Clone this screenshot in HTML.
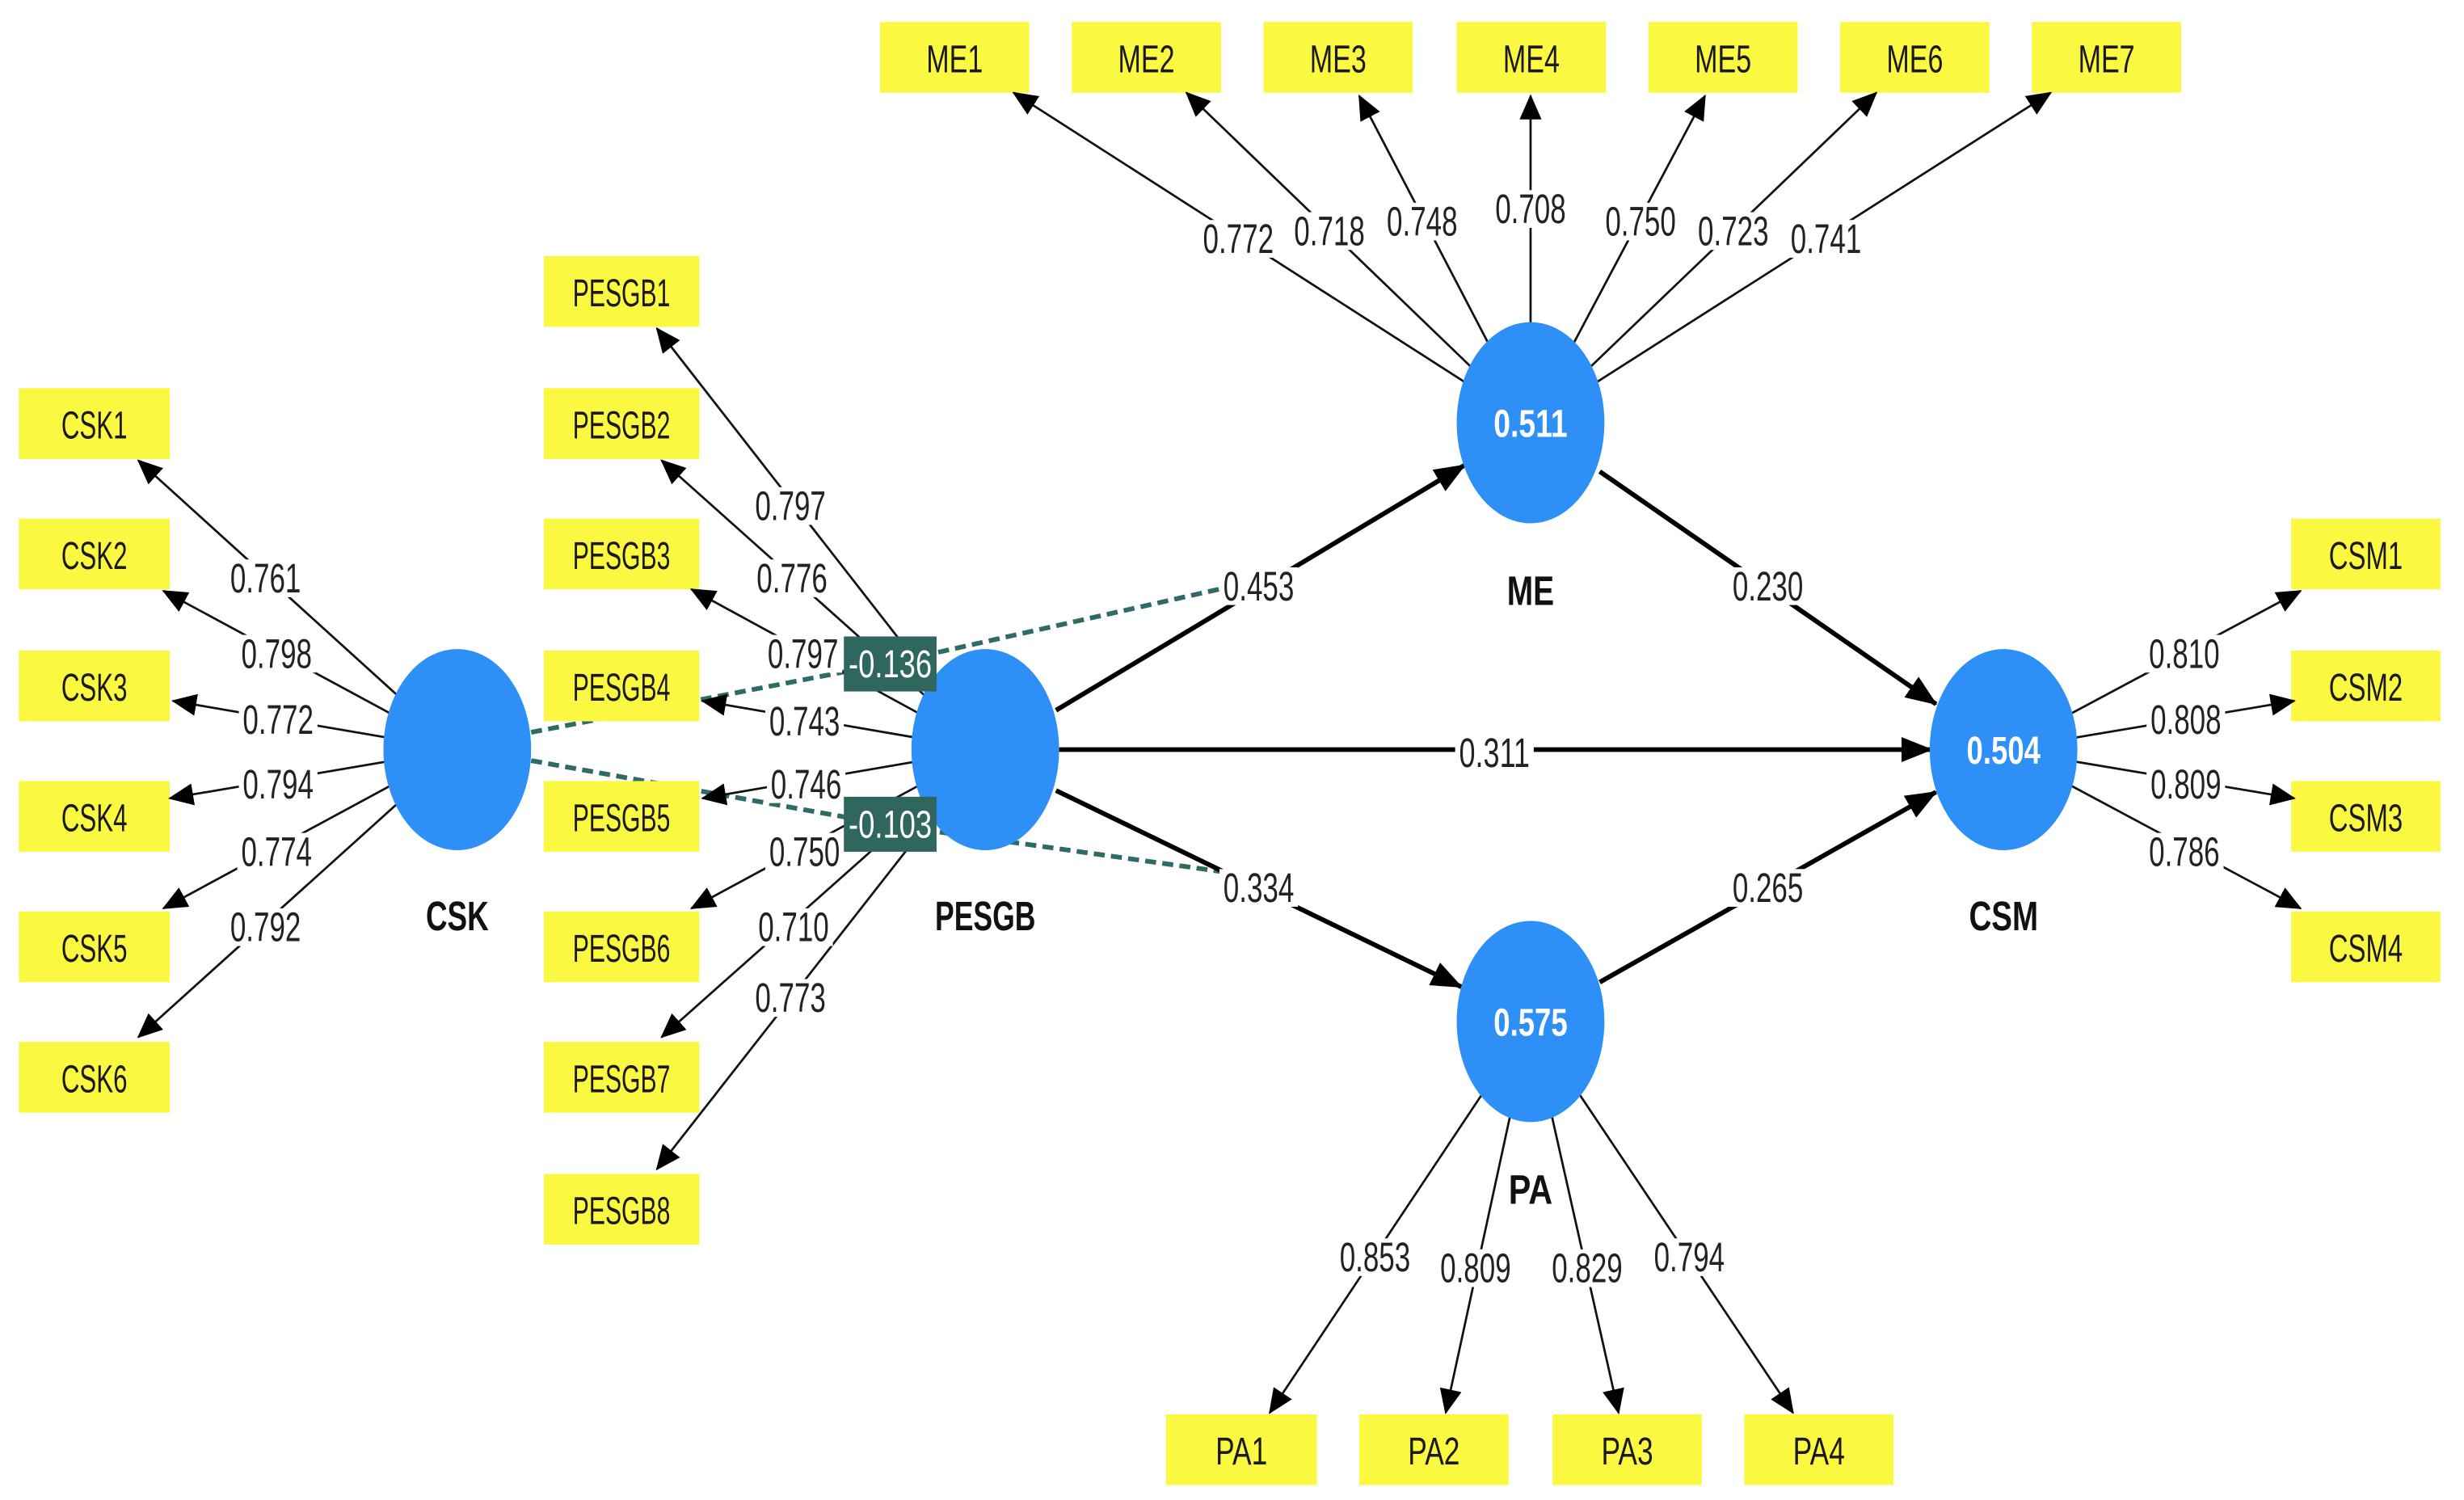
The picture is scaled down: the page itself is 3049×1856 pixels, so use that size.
<!DOCTYPE html>
<html><head><meta charset="utf-8"><style>
html,body{margin:0;padding:0;background:#fff;}
svg{display:block;}
text{font-family:"Liberation Sans",sans-serif;}
</style></head><body>
<svg width="3049" height="1856" viewBox="0 0 1568 954.5" preserveAspectRatio="none" xmlns="http://www.w3.org/2000/svg">
<defs>
<marker id="a" markerUnits="userSpaceOnUse" markerWidth="16" markerHeight="14" refX="15" refY="7" orient="auto"><path d="M0,0 L16,7 L0,14 Z" fill="#000"/></marker>
<marker id="b" markerUnits="userSpaceOnUse" markerWidth="20" markerHeight="16" refX="19" refY="8" orient="auto"><path d="M0,0 L20,8 L0,16 Z" fill="#000"/></marker>
</defs>
<rect width="1568" height="954.5" fill="#fff"/>

<g stroke="#2f6b66" stroke-width="3" stroke-dasharray="7,4" fill="none">
<path d="M338,466 L566,422 L780,374"/>
<path d="M338,484 L566,525 L780,555"/>
</g>

<g fill="#fbf841">
<rect x="560" y="14" width="95" height="45"/><rect x="682" y="14" width="95" height="45"/><rect x="804" y="14" width="95" height="45"/><rect x="927" y="14" width="95" height="45"/><rect x="1049" y="14" width="95" height="45"/><rect x="1171" y="14" width="95" height="45"/><rect x="1293" y="14" width="95" height="45"/>
<rect x="346" y="163" width="99" height="45"/><rect x="346" y="247" width="99" height="45"/><rect x="346" y="330" width="99" height="45"/><rect x="346" y="414" width="99" height="45"/><rect x="346" y="497" width="99" height="45"/><rect x="346" y="580" width="99" height="45"/><rect x="346" y="663" width="99" height="45"/><rect x="346" y="747" width="99" height="45"/>
<rect x="12" y="247" width="96" height="45"/><rect x="12" y="330" width="96" height="45"/><rect x="12" y="414" width="96" height="45"/><rect x="12" y="497" width="96" height="45"/><rect x="12" y="580" width="96" height="45"/><rect x="12" y="663" width="96" height="45"/>
<rect x="1458" y="330" width="95" height="45"/><rect x="1458" y="414" width="95" height="45"/><rect x="1458" y="497" width="95" height="45"/><rect x="1458" y="580" width="95" height="45"/>
<rect x="742" y="900" width="96" height="45"/><rect x="865" y="900" width="95" height="45"/><rect x="988" y="900" width="95" height="45"/><rect x="1110" y="900" width="95" height="45"/>
</g>

<g stroke="#111" stroke-width="1.4" fill="none" marker-end="url(#a)">
<line x1="291" y1="477" x2="88" y2="293"/><line x1="291" y1="477" x2="104" y2="376"/><line x1="291" y1="477" x2="110" y2="446"/><line x1="291" y1="477" x2="108" y2="508"/><line x1="291" y1="477" x2="104" y2="578"/><line x1="291" y1="477" x2="88" y2="660"/>
<line x1="627" y1="477" x2="418" y2="209"/><line x1="627" y1="477" x2="421" y2="293"/><line x1="627" y1="477" x2="440" y2="375"/><line x1="627" y1="477" x2="447" y2="446"/><line x1="627" y1="477" x2="447" y2="508"/><line x1="627" y1="477" x2="440" y2="578"/><line x1="627" y1="477" x2="421" y2="660"/><line x1="627" y1="477" x2="418" y2="744"/>
<line x1="974" y1="270" x2="645" y2="59"/><line x1="974" y1="270" x2="755" y2="59"/><line x1="974" y1="270" x2="865" y2="61"/><line x1="974" y1="270" x2="974" y2="61"/><line x1="974" y1="270" x2="1085" y2="61"/><line x1="974" y1="270" x2="1194" y2="59"/><line x1="974" y1="270" x2="1305" y2="59"/>
<line x1="974" y1="650" x2="808" y2="899"/><line x1="974" y1="650" x2="920" y2="899"/><line x1="974" y1="650" x2="1030" y2="899"/><line x1="974" y1="650" x2="1141" y2="899"/>
<line x1="1275" y1="477" x2="1464" y2="376"/><line x1="1275" y1="477" x2="1460" y2="446"/><line x1="1275" y1="477" x2="1460" y2="508"/><line x1="1275" y1="477" x2="1464" y2="578"/>
</g>

<g stroke="#000" stroke-width="3" fill="none" marker-end="url(#b)">
<line x1="672" y1="452" x2="932" y2="296"/>
<line x1="1018" y1="300" x2="1232" y2="448"/>
<line x1="674" y1="477" x2="1229" y2="477"/>
<line x1="672" y1="503" x2="930" y2="628"/>
<line x1="1018" y1="625" x2="1232" y2="504"/>
</g>

<g fill="#2e90f6">
<ellipse cx="291" cy="477" rx="47" ry="64"/>
<ellipse cx="627" cy="477" rx="47" ry="64"/>
<ellipse cx="974" cy="269" rx="47" ry="64"/>
<ellipse cx="1275" cy="477" rx="47" ry="64"/>
<ellipse cx="974" cy="650" rx="47" ry="64"/>
</g>

<!-- label backgrounds -->
<g fill="#fff">
<rect x="144" y="356" width="50" height="24"/><rect x="151" y="404" width="50" height="24"/><rect x="152" y="446" width="50" height="24"/><rect x="152" y="487" width="50" height="24"/><rect x="151" y="530" width="50" height="24"/><rect x="144" y="578" width="50" height="24"/>
<rect x="478" y="310" width="50" height="24"/><rect x="479" y="356" width="50" height="24"/><rect x="486" y="404" width="50" height="24"/><rect x="487" y="447" width="50" height="24"/><rect x="488" y="487" width="50" height="24"/><rect x="487" y="530" width="50" height="24"/><rect x="480" y="578" width="50" height="24"/><rect x="478" y="623" width="50" height="24"/>
<rect x="763" y="140" width="50" height="24"/><rect x="821" y="135" width="50" height="24"/><rect x="880" y="129" width="50" height="24"/><rect x="949" y="121" width="50" height="24"/><rect x="1019" y="129" width="50" height="24"/><rect x="1078" y="135" width="50" height="24"/><rect x="1137" y="140" width="50" height="24"/>
<rect x="850" y="788" width="50" height="24"/><rect x="914" y="795" width="50" height="24"/><rect x="985" y="795" width="50" height="24"/><rect x="1050" y="788" width="50" height="24"/>
<rect x="1365" y="404" width="50" height="24"/><rect x="1366" y="446" width="50" height="24"/><rect x="1366" y="487" width="50" height="24"/><rect x="1365" y="530" width="50" height="24"/>
<rect x="776" y="361" width="50" height="24"/><rect x="1100" y="361" width="50" height="24"/><rect x="926" y="467" width="50" height="24"/><rect x="776" y="553" width="50" height="24"/><rect x="1100" y="553" width="50" height="24"/>
</g>

<rect x="537" y="405" width="59" height="35" fill="#2f675f"/>
<rect x="537" y="507" width="59" height="35" fill="#2f675f"/>
<g fill="#fff" font-size="25" text-anchor="middle">
<text x="566.5" y="431" textLength="53" lengthAdjust="spacingAndGlyphs">-0.136</text>
<text x="566.5" y="533" textLength="53" lengthAdjust="spacingAndGlyphs">-0.103</text>
</g>

<g font-size="26" text-anchor="middle" fill="#222">
<text x="169" y="377" textLength="45" lengthAdjust="spacingAndGlyphs">0.761</text>
<text x="176" y="425" textLength="45" lengthAdjust="spacingAndGlyphs">0.798</text>
<text x="177" y="467" textLength="45" lengthAdjust="spacingAndGlyphs">0.772</text>
<text x="177" y="508" textLength="45" lengthAdjust="spacingAndGlyphs">0.794</text>
<text x="176" y="551" textLength="45" lengthAdjust="spacingAndGlyphs">0.774</text>
<text x="169" y="599" textLength="45" lengthAdjust="spacingAndGlyphs">0.792</text>
<text x="503" y="331" textLength="45" lengthAdjust="spacingAndGlyphs">0.797</text>
<text x="504" y="377" textLength="45" lengthAdjust="spacingAndGlyphs">0.776</text>
<text x="511" y="425" textLength="45" lengthAdjust="spacingAndGlyphs">0.797</text>
<text x="512" y="468" textLength="45" lengthAdjust="spacingAndGlyphs">0.743</text>
<text x="513" y="508" textLength="45" lengthAdjust="spacingAndGlyphs">0.746</text>
<text x="512" y="551" textLength="45" lengthAdjust="spacingAndGlyphs">0.750</text>
<text x="505" y="599" textLength="45" lengthAdjust="spacingAndGlyphs">0.710</text>
<text x="503" y="644" textLength="45" lengthAdjust="spacingAndGlyphs">0.773</text>
<text x="788" y="161" textLength="45" lengthAdjust="spacingAndGlyphs">0.772</text>
<text x="846" y="156" textLength="45" lengthAdjust="spacingAndGlyphs">0.718</text>
<text x="905" y="150" textLength="45" lengthAdjust="spacingAndGlyphs">0.748</text>
<text x="974" y="142" textLength="45" lengthAdjust="spacingAndGlyphs">0.708</text>
<text x="1044" y="150" textLength="45" lengthAdjust="spacingAndGlyphs">0.750</text>
<text x="1103" y="156" textLength="45" lengthAdjust="spacingAndGlyphs">0.723</text>
<text x="1162" y="161" textLength="45" lengthAdjust="spacingAndGlyphs">0.741</text>
<text x="875" y="809" textLength="45" lengthAdjust="spacingAndGlyphs">0.853</text>
<text x="939" y="816" textLength="45" lengthAdjust="spacingAndGlyphs">0.809</text>
<text x="1010" y="816" textLength="45" lengthAdjust="spacingAndGlyphs">0.829</text>
<text x="1075" y="809" textLength="45" lengthAdjust="spacingAndGlyphs">0.794</text>
<text x="1390" y="425" textLength="45" lengthAdjust="spacingAndGlyphs">0.810</text>
<text x="1391" y="467" textLength="45" lengthAdjust="spacingAndGlyphs">0.808</text>
<text x="1391" y="508" textLength="45" lengthAdjust="spacingAndGlyphs">0.809</text>
<text x="1390" y="551" textLength="45" lengthAdjust="spacingAndGlyphs">0.786</text>
<text x="801" y="382" textLength="45" lengthAdjust="spacingAndGlyphs">0.453</text>
<text x="1125" y="382" textLength="45" lengthAdjust="spacingAndGlyphs">0.230</text>
<text x="951" y="488" textLength="45" lengthAdjust="spacingAndGlyphs">0.311</text>
<text x="801" y="574" textLength="45" lengthAdjust="spacingAndGlyphs">0.334</text>
<text x="1125" y="574" textLength="45" lengthAdjust="spacingAndGlyphs">0.265</text>
</g>

<g font-size="25" text-anchor="middle" fill="#1a1a1a">
<text x="607.5" y="46" textLength="36" lengthAdjust="spacingAndGlyphs">ME1</text>
<text x="729.5" y="46" textLength="36" lengthAdjust="spacingAndGlyphs">ME2</text>
<text x="851.5" y="46" textLength="36" lengthAdjust="spacingAndGlyphs">ME3</text>
<text x="974.5" y="46" textLength="36" lengthAdjust="spacingAndGlyphs">ME4</text>
<text x="1096.5" y="46" textLength="36" lengthAdjust="spacingAndGlyphs">ME5</text>
<text x="1218.5" y="46" textLength="36" lengthAdjust="spacingAndGlyphs">ME6</text>
<text x="1340.5" y="46" textLength="36" lengthAdjust="spacingAndGlyphs">ME7</text>
<text x="395.5" y="195" textLength="62" lengthAdjust="spacingAndGlyphs">PESGB1</text>
<text x="395.5" y="279" textLength="62" lengthAdjust="spacingAndGlyphs">PESGB2</text>
<text x="395.5" y="362" textLength="62" lengthAdjust="spacingAndGlyphs">PESGB3</text>
<text x="395.5" y="446" textLength="62" lengthAdjust="spacingAndGlyphs">PESGB4</text>
<text x="395.5" y="529" textLength="62" lengthAdjust="spacingAndGlyphs">PESGB5</text>
<text x="395.5" y="612" textLength="62" lengthAdjust="spacingAndGlyphs">PESGB6</text>
<text x="395.5" y="695" textLength="62" lengthAdjust="spacingAndGlyphs">PESGB7</text>
<text x="395.5" y="779" textLength="62" lengthAdjust="spacingAndGlyphs">PESGB8</text>
<text x="60" y="279" textLength="42" lengthAdjust="spacingAndGlyphs">CSK1</text>
<text x="60" y="362" textLength="42" lengthAdjust="spacingAndGlyphs">CSK2</text>
<text x="60" y="446" textLength="42" lengthAdjust="spacingAndGlyphs">CSK3</text>
<text x="60" y="529" textLength="42" lengthAdjust="spacingAndGlyphs">CSK4</text>
<text x="60" y="612" textLength="42" lengthAdjust="spacingAndGlyphs">CSK5</text>
<text x="60" y="695" textLength="42" lengthAdjust="spacingAndGlyphs">CSK6</text>
<text x="1505.5" y="362" textLength="47" lengthAdjust="spacingAndGlyphs">CSM1</text>
<text x="1505.5" y="446" textLength="47" lengthAdjust="spacingAndGlyphs">CSM2</text>
<text x="1505.5" y="529" textLength="47" lengthAdjust="spacingAndGlyphs">CSM3</text>
<text x="1505.5" y="612" textLength="47" lengthAdjust="spacingAndGlyphs">CSM4</text>
<text x="790" y="932" textLength="33" lengthAdjust="spacingAndGlyphs">PA1</text>
<text x="912.5" y="932" textLength="33" lengthAdjust="spacingAndGlyphs">PA2</text>
<text x="1035.5" y="932" textLength="33" lengthAdjust="spacingAndGlyphs">PA3</text>
<text x="1157.5" y="932" textLength="33" lengthAdjust="spacingAndGlyphs">PA4</text>
</g>

<g font-size="25" font-weight="bold" text-anchor="middle" fill="#fff">
<text x="974" y="278" textLength="47" lengthAdjust="spacingAndGlyphs">0.511</text>
<text x="1275" y="486" textLength="47" lengthAdjust="spacingAndGlyphs">0.504</text>
<text x="974" y="659" textLength="47" lengthAdjust="spacingAndGlyphs">0.575</text>
</g>

<g font-size="26" font-weight="bold" text-anchor="middle" fill="#111">
<text x="291" y="592" textLength="40" lengthAdjust="spacingAndGlyphs">CSK</text>
<text x="627" y="592" textLength="64" lengthAdjust="spacingAndGlyphs">PESGB</text>
<text x="974" y="385" textLength="30" lengthAdjust="spacingAndGlyphs">ME</text>
<text x="1275" y="592" textLength="44" lengthAdjust="spacingAndGlyphs">CSM</text>
<text x="974" y="766" textLength="28" lengthAdjust="spacingAndGlyphs">PA</text>
</g>
</svg>
</body></html>
